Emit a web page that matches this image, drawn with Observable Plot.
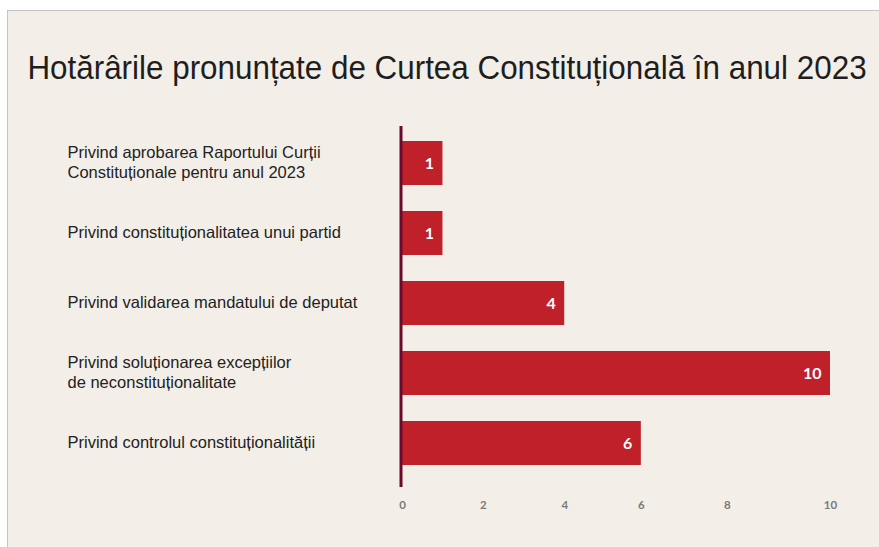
<!DOCTYPE html>
<html>
<head>
<meta charset="utf-8">
<script src="https://cdn.jsdelivr.net/npm/d3@7"></script>
<script src="https://cdn.jsdelivr.net/npm/@observablehq/plot@0.6"></script>
<style>
  html, body { margin: 0; padding: 0; background: #ffffff; }
  #wrap { position: relative; width: 879px; height: 547px; overflow: hidden; }
  #panel { position: absolute; left: 7px; top: 10px; width: 900px; height: 560px;
           background: #f3efe8; border-left: 1px solid #c4c4c4; border-top: 1px solid #c4c4c4; }
  #title { position: absolute; left: 447px; top: 49px; transform: translateX(-50%) scaleX(0.951);
           font-family: "Liberation Sans", Arial, sans-serif; font-size: 33px; line-height: normal;
           color: #1e1e1e; white-space: nowrap; }
  #chart { position: absolute; left: 0; top: 0; }
</style>
</head>
<body>
<div id="wrap">
  <div id="panel"></div>
  <div id="title">Hotărârile pronunțate de Curtea Constituțională în anul 2023</div>
  <div id="chart"></div>
</div>
<script>
const categories = [
  "Privind aprobarea Raportului Curții\nConstituționale pentru anul 2023",
  "Privind constituționalitatea unui partid",
  "Privind validarea mandatului de deputat",
  "Privind soluționarea excepțiilor\nde neconstituționalitate",
  "Privind controlul constituționalității"
];
const values = [1, 1, 4, 10, 6];
const xTicks = [0, 2, 4, 6, 8, 10];
// the original axis is unevenly spaced: where each tick sits, in axis units
const xTickSpacing = [0, 1.89, 3.79, 5.58, 7.59, 10];

const warp = d3.scaleLinear(xTicks, xTickSpacing);
const data = categories.map((c, i) => ({category: c, value: values[i]}));

const chart = Plot.plot({
  width: 879,
  height: 547,
  marginLeft: 402,
  marginRight: 49,
  marginTop: 126,
  marginBottom: 60,
  style: {background: "transparent", overflow: "visible"},
  x: {domain: [0, 10], transform: v => warp(v), label: null},
  y: {domain: categories, paddingInner: 0.378, paddingOuter: 0.24, align: 0.4, axis: null},
  marks: [
    Plot.barX(data, {x: "value", y: "category", fill: "#c0202a"}),
    Plot.ruleX([0], {stroke: "#6b0a2a", strokeWidth: 3, dx: -1.5}),
    Plot.text(data, {
      x: "value", y: "category", text: d => String(d.value),
      textAnchor: "end", dx: -9, fill: "white",
      fontFamily: "Lato, 'Open Sans', sans-serif", fontWeight: "bold", fontSize: 16
    }),
    Plot.text(data, {
      y: "category", text: "category", frameAnchor: "left", dx: -335, dy: -2,
      textAnchor: "start", lineHeight: 1.25, fill: "#222",
      fontFamily: "'Liberation Sans', Arial, sans-serif", fontSize: 16.5
    }),
    Plot.axisX(xTicks, {
      tickSize: 0, tickPadding: 13, fill: "#7a7a7a", label: null,
      fontWeight: "bold", fontSize: 11.5, fontFamily: "Lato, 'Open Sans', sans-serif"
    })
  ]
});
document.getElementById("chart").appendChild(chart);
</script>
</body>
</html>
